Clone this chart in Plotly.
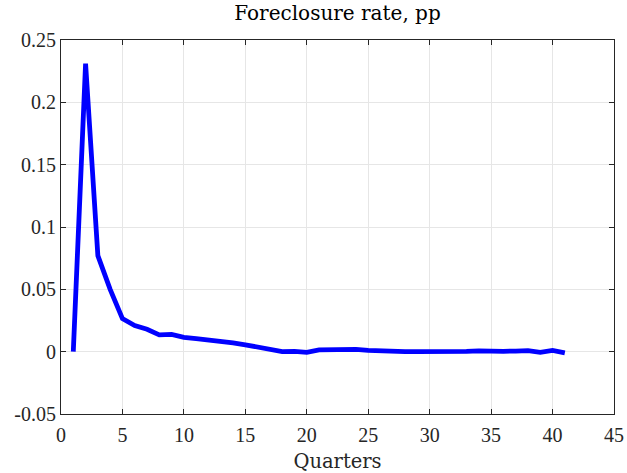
import plotly.graph_objects as go

quarters = list(range(1, 42))
foreclosure_rate = [0.0, 0.231, 0.077, 0.050, 0.0265, 0.021, 0.018, 0.0135, 0.0138, 0.0115,
                    0.0105, 0.0095, 0.0088, 0.007, 0.0055, 0.0038, 0.0015, 0.0, 0.0002, -0.0005,
                    0.0015, 0.0018, 0.0022, 0.0018, 0.001, 0.0005, 0.0003, 0.0001, 0.0001, 0.0,
                    0.0002, 0.0003, 0.0002, 0.0006, 0.0002, 0.0003, 0.0005, 0.0008, -0.0005, 0.001,
                    -0.001]

x_ticks = list(range(0, 46, 5))
y_ticks = [-0.05, 0, 0.05, 0.1, 0.15, 0.2, 0.25]
y_labels = ["-0.05", "0", "0.05", "0.1", "0.15", "0.2", "0.25"]

tick_font = "Liberation Serif"
title_font = "DejaVu Serif"

fig = go.Figure()
fig.add_trace(go.Scatter(x=quarters, y=foreclosure_rate, mode="lines",
                         line=dict(color="#0000ff", width=4.8)))

axis_common = dict(showline=True, mirror="ticks", linecolor="#262626", linewidth=1,
                   showgrid=True, gridcolor="#e6e6e6", gridwidth=1, zeroline=False,
                   ticks="inside", ticklen=5, tickcolor="#262626", automargin=False,
                   tickfont=dict(family=tick_font, size=20, color="#262626"))

fig.update_layout(
    width=627, height=473,
    margin=dict(l=61, r=13, t=40, b=59, autoexpand=False),
    paper_bgcolor="white", plot_bgcolor="white",
    showlegend=False,
    title=dict(text="Foreclosure rate, pp", x=0.5, xanchor="center", xref="paper",
               y=1 - 13 / 473, yanchor="middle", automargin=False,
               font=dict(family=title_font, size=20, color="black")),
    xaxis=dict(range=[0, 45], tickvals=x_ticks, ticklabelstandoff=3,
               title=dict(text="Quarters", font=dict(family=title_font, size=19.5, color="#262626"),
                          standoff=10),
               **axis_common),
    yaxis=dict(range=[-0.05, 0.25], tickvals=y_ticks, ticktext=y_labels, **axis_common),
)

fig.write_html("out.html")
